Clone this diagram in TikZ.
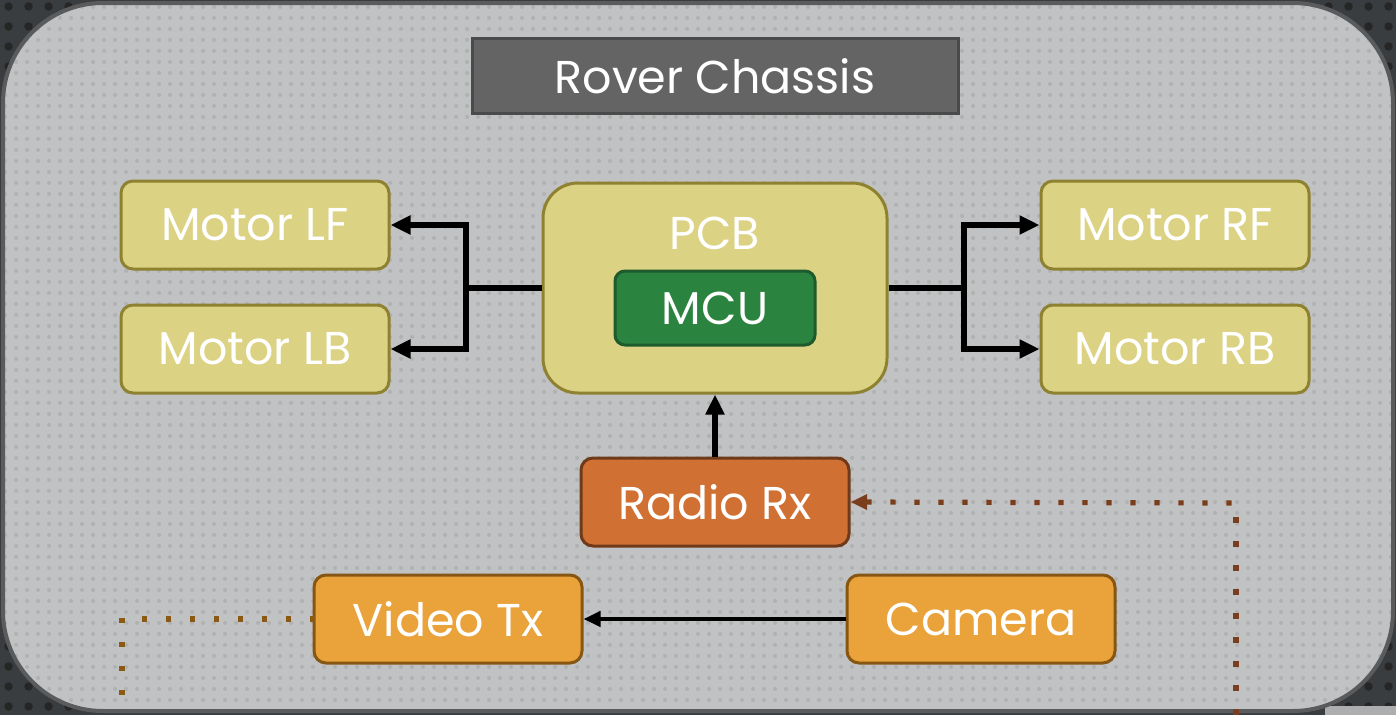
\documentclass[tikz,border=0pt]{standalone}
\usepackage{fontspec}
\setmainfont{Poppins}
\usetikzlibrary{arrows.meta,patterns,decorations.markings}
\pgfdeclarepatternformonly{paneldots}{\pgfpointorigin}{\pgfqpoint{11pt}{11pt}}{\pgfqpoint{11pt}{11pt}}{\pgfpathcircle{\pgfqpoint{5.5pt}{5.5pt}}{2.2pt}\pgfusepath{fill}}
\pgfdeclarepatternformonly{darkdots}{\pgfpointorigin}{\pgfqpoint{20pt}{20pt}}{\pgfqpoint{20pt}{20pt}}{\pgfpathcircle{\pgfqpoint{10pt}{10pt}}{4.5pt}\pgfusepath{fill}}
\definecolor{bgdark}{HTML}{3A3D40}
\definecolor{panel}{HTML}{C1C2C3}
\definecolor{panelborder}{HTML}{5A5B5D}
\definecolor{titlefill}{HTML}{646464}
\definecolor{titleborder}{HTML}{4A4A4A}
\definecolor{khaki}{HTML}{DCD283}
\definecolor{khakiborder}{HTML}{8E8230}
\definecolor{mcufill}{HTML}{2A8440}
\definecolor{mcuborder}{HTML}{1D5A2C}
\definecolor{rxfill}{HTML}{D07033}
\definecolor{rxborder}{HTML}{6E3A1A}
\definecolor{orfill}{HTML}{EAA23A}
\definecolor{orborder}{HTML}{865612}
\definecolor{dotbrown}{HTML}{7A3E1C}
\definecolor{dotorange}{HTML}{8A5A14}
\tikzset{
  x=1pt, y=-1pt,
  txt/.style={text=white, font=\fontsize{46}{50}\selectfont},
  blk/.style={draw, line width=3pt, rounded corners=12pt, minimum width=268pt, minimum height=88pt, txt},
  motor/.style={blk, fill=khaki, draw=khakiborder},
  orbox/.style={blk, fill=orfill, draw=orborder},
  wire/.style={line width=5.5pt, black},
  tip/.style={-{Triangle[length=20pt,width=18pt]}},
  dotline/.style={decoration={markings, mark=between positions 0 and 1 step 24pt with {\fill[#1] (-2.6pt,-2.6pt) rectangle (2.6pt,2.6pt);}}, decorate},
}
\begin{document}
\begin{tikzpicture}
\useasboundingbox (0,0) rectangle (1396,715);
\fill[bgdark] (0,0) rectangle (1396,715);
\fill[pattern=darkdots, pattern color=black!85] (0,0) rectangle (1396,715);
\fill[panel!70!gray] (1325,706) rectangle (1396,715);
\fill[panel, rounded corners=100pt] (3,3) rectangle (1393,711);
\fill[pattern=paneldots, pattern color=black!9!panel, rounded corners=100pt] (3,3) rectangle (1393,711);
\draw[panelborder, line width=4pt, rounded corners=100pt] (3,3) rectangle (1393,711);

\node[draw=titleborder, fill=titlefill, line width=3pt, minimum width=486pt, minimum height=75pt, txt] (title) at (715,76) {Rover Chassis};

\node[motor] (lf) at (255,225) {Motor LF};
\node[motor] (lb) at (255,349) {Motor LB};
\node[motor] (rf) at (1175,225) {Motor RF};
\node[motor] (rb) at (1175,349) {Motor RB};

\node[draw=khakiborder, fill=khaki, line width=3pt, rounded corners=35pt, minimum width=344pt, minimum height=210pt] (pcb) at (715,288) {};
\node[txt] (pcbtxt) at (715,233) {PCB};
\node[draw=mcuborder, fill=mcufill, line width=3pt, rounded corners=10pt, minimum width=200pt, minimum height=74pt, txt] (mcu) at (715,308) {MCU};

\node[blk, fill=rxfill, draw=rxborder] (rx) at (715,502) {Radio Rx};
\node[orbox] (vtx) at (448,619) {Video Tx};
\node[orbox] (cam) at (981,619) {Camera};

\coordinate (lj) at (466,288);
\coordinate (rj) at (964,288);
\draw[wire] (pcb.west) -- (lj);
\draw[wire, tip] (lj) |- (lf.east);
\draw[wire, tip] (lj) |- (lb.east);
\draw[wire] (pcb.east) -- (rj);
\draw[wire, tip] (rj) |- (rf.west);
\draw[wire, tip] (rj) |- (rb.west);
\draw[wire, tip] (rx.north) -- (pcb.south);
\draw[line width=4pt, -{Triangle[length=17pt,width=15pt]}] (cam.west) -- (vtx.east);

\coordinate (rxs) at (1236,712);
\coordinate (rxc) at (1236,503);
\path[dotline=dotbrown] (rxs) -- (rxc) -- ([xshift=12pt]rx.east);
\fill[dotbrown] (rx.east) ++(0.5,0) -- ++(16,-8) -- ++(0,16) -- cycle;

\coordinate (vtc) at (122,619);
\coordinate (vte) at (122,712);
\path[dotline=dotorange] (vtx.west) -- (vtc) -- (vte);
\end{tikzpicture}
\end{document}
